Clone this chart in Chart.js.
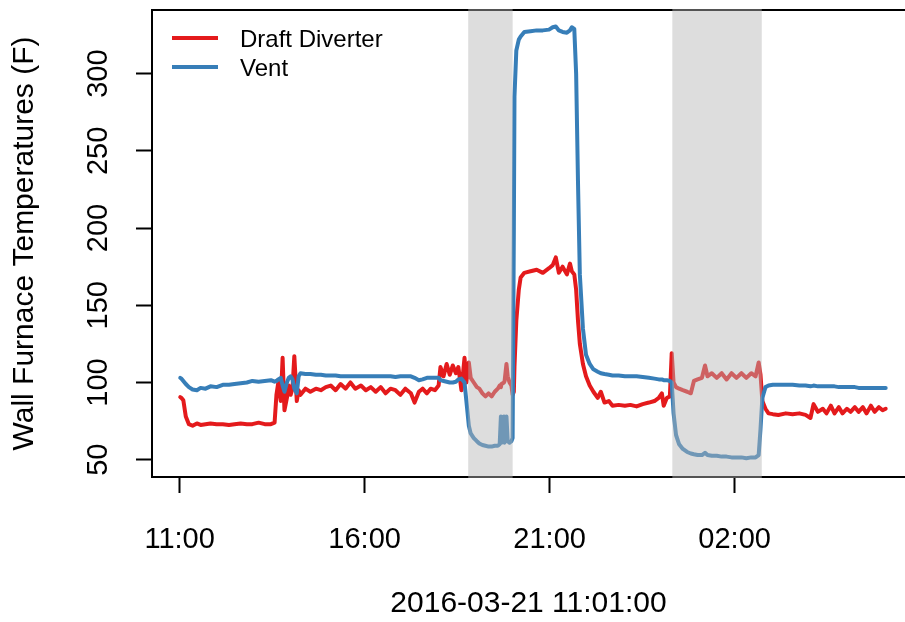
<!DOCTYPE html>
<html>
<head>
<meta charset="utf-8">
<title>Wall Furnace Temperatures</title>
<script src="https://cdn.jsdelivr.net/npm/chart.js@4.4.1/dist/chart.umd.min.js"></script>
<style>
  html, body { margin: 0; padding: 0; background: #fff; overflow: hidden; }
  #wrap { position: relative; width: 905px; height: 622px; }
</style>
</head>
<body>
<div id="wrap"><canvas id="c" width="905" height="622"></canvas></div>
<script>
// Logged temperatures, minutes elapsed since 11:00 on 2016-03-21
const minutes = [
  1, 3, 6, 10, 15, 21, 28, 34, 42, 50, 60, 70, 80, 89, 99, 109, 118, 128, 138, 148,
  154, 157, 160, 164, 167, 170, 174, 177, 180, 183, 186, 190, 193, 196, 204, 212, 221, 229, 237, 245,
  253, 261, 269, 277, 285, 294, 302, 310, 318, 326, 334, 342, 350, 358, 366, 375, 381, 388, 394, 401,
  407, 414, 420, 423, 428, 433, 438, 443, 448, 452, 457, 462, 465, 469, 472, 477, 482, 486, 491, 496,
  501, 506, 511, 516, 519, 521, 522, 526, 527, 530, 532, 535, 538, 540, 542, 543, 546, 550, 553, 559,
  569, 579, 589, 599, 605, 610, 615, 621, 628, 633, 636, 640, 643, 646, 649, 654, 659, 665, 671, 678,
  683, 689, 696, 702, 712, 722, 731, 741, 751, 761, 770, 777, 782, 785, 790, 795, 798, 801, 805, 810,
  816, 823, 829, 834, 840, 847, 852, 856, 863, 871, 879, 887, 895, 903, 911, 919, 927, 934, 939, 942,
  945, 950, 955, 962, 971, 983, 994, 1005, 1015, 1023, 1028, 1035, 1043, 1049, 1056, 1062, 1069, 1075, 1082, 1088,
  1095, 1101, 1108, 1114, 1121, 1127, 1134, 1140, 1145
];
const draftDiverter = [
  90.5, 90, 88.5, 78, 73, 72, 73.5, 72.5, 73, 73.5, 73, 73, 72.5, 73, 73.5, 73, 73, 74, 73, 73,
  74, 92, 100, 88, 116, 82, 90, 98, 92, 96, 117, 88, 95, 92, 96, 94, 96, 95, 97, 98,
  95, 99, 96, 100, 96, 98, 95, 97, 94, 97, 93, 96, 95, 92, 96, 93, 87, 94, 96, 93,
  96, 95, 98, 110, 104, 112, 105, 111, 106, 110, 95, 116, 100, 113, 103, 100, 97, 96, 93, 91,
  93, 91, 94, 96, 98, 97, 99, 100, 101, 112, 104, 100, 98, 92, 94, 110, 140, 160, 168, 171,
  172, 173, 171, 174, 176, 181, 171, 175, 170, 177, 172, 170, 160, 140, 125, 112, 104, 98, 94, 90,
  94, 87, 88, 85, 85.5, 85, 85.5, 84.5, 86, 87, 88, 90, 93, 85, 90, 91, 119, 100, 97, 96,
  95, 94, 93, 101, 102, 103, 111, 104, 106, 103, 106, 102, 106, 103, 106, 103, 106, 104, 113, 105,
  88, 83, 80, 79.5, 79, 80, 79.5, 80, 79, 77, 86, 81, 83, 80, 85, 80, 84, 80, 83, 81,
  84, 81, 84, 80, 85, 81, 84, 82, 83
];
const vent = [
  103, 102.5, 101, 99, 97, 95.5, 95, 96.5, 96, 97.5, 97, 98.5, 98.5, 99, 99.5, 100, 101, 100.5, 101, 101.5,
  100.5, 101, 102, 103, 98, 94, 100, 103, 104, 102, 96, 93, 104, 106, 105.5, 105.5, 105, 105, 104.5, 104.5,
  104.5, 104, 104, 104, 104, 104, 104, 104, 104, 104, 104, 104, 103.5, 104, 104, 104, 103, 101.5, 102, 103,
  103, 103, 103, 101.5, 101, 100.5, 100, 100, 100.5, 102, 102.5, 100, 88, 72, 67, 64, 62, 60.5, 59.5, 59,
  58.5, 58.5, 59, 59, 60, 78, 61, 78, 61, 78, 62, 61, 62, 64, 200, 285, 315, 322, 324, 327,
  327.5, 328, 328, 328.5, 330, 330.5, 328, 327, 326.5, 328, 330, 329, 300, 230, 170, 135, 118, 112, 108.5, 107,
  106, 105.5, 105, 104.5, 104.5, 104, 104, 104, 103.5, 103, 102.5, 102, 102, 101.5, 101.5, 101, 100, 80, 66, 60,
  57, 55, 54, 53.5, 53, 53, 54.5, 53, 52.5, 52.5, 52, 52, 51.5, 51.5, 51.5, 51, 51.5, 51.5, 53, 70,
  90, 97, 98, 98.5, 98.5, 98.5, 98.5, 98, 98, 97.5, 98, 97.5, 97.5, 97.5, 97.5, 97.5, 97, 97, 97, 97,
  97, 96.5, 96.5, 96.5, 96.5, 96.5, 96.5, 96.5, 96.5
];

const seriesNames = ['Draft Diverter', 'Vent'];
const seriesColors = ['#E41A1C', '#377EB8'];

const yTicks = [50, 100, 150, 200, 250, 300];
const xTickMinutes = [0, 300, 600, 900];
const xTickLabels = ['11:00', '16:00', '21:00', '02:00'];

// Shaded periods, minutes since 11:00
const shadeStart = [468, 799];
const shadeEnd = [540, 944];

const FONT = '"Liberation Sans", Arial, Helvetica, sans-serif';

function toPoints(values) {
  return values.map((v, i) => ({ x: minutes[i], y: v }));
}

// Plot frame (top, left, bottom), drawn under the traces
const framePlugin = {
  id: 'frame',
  beforeDatasetsDraw(chart) {
    const { ctx, chartArea: a } = chart;
    ctx.save();
    ctx.strokeStyle = '#000';
    ctx.lineWidth = 2;
    ctx.beginPath();
    ctx.moveTo(a.right + 2, a.top);
    ctx.lineTo(a.left, a.top);
    ctx.lineTo(a.left, a.bottom);
    ctx.lineTo(a.right + 2, a.bottom);
    ctx.stroke();
    ctx.restore();
  }
};

// Translucent grey bands laid over the traces
const shadePlugin = {
  id: 'shade',
  afterDatasetsDraw(chart) {
    const { ctx, chartArea: a, scales: { x } } = chart;
    ctx.save();
    ctx.fillStyle = 'rgba(180,180,180,0.46)';
    for (let i = 0; i < shadeStart.length; i++) {
      const x0 = x.getPixelForValue(shadeStart[i]);
      const x1 = x.getPixelForValue(shadeEnd[i]);
      ctx.fillRect(x0, a.top - 1, x1 - x0, a.bottom - a.top + 2);
    }
    ctx.restore();
  }
};

// Rotated y tick labels and the legend
const labelPlugin = {
  id: 'labels',
  afterDraw(chart) {
    const { ctx, chartArea: a, scales: { y } } = chart;
    ctx.save();
    ctx.fillStyle = '#000';
    ctx.font = '29px ' + FONT;
    ctx.textAlign = 'center';
    ctx.textBaseline = 'alphabetic';
    y.ticks.forEach(t => {
      const py = y.getPixelForValue(t.value);
      ctx.save();
      ctx.translate(107, py);
      ctx.rotate(-Math.PI / 2);
      ctx.fillText(String(t.value), 0, 0);
      ctx.restore();
    });

    // legend
    const rows = [38, 67];
    ctx.font = '24px ' + FONT;
    ctx.textAlign = 'left';
    chart.data.datasets.forEach((ds, i) => {
      const ry = rows[i];
      ctx.strokeStyle = ds.borderColor;
      ctx.lineWidth = 4;
      ctx.lineCap = 'butt';
      ctx.beginPath();
      ctx.moveTo(a.left + 20, ry);
      ctx.lineTo(a.left + 66, ry);
      ctx.stroke();
      ctx.fillStyle = '#000';
      ctx.fillText(ds.label, a.left + 88, ry + 9);
    });
    ctx.restore();
  }
};

new Chart(document.getElementById('c'), {
  type: 'line',
  data: {
    datasets: [
      {
        label: seriesNames[0],
        data: toPoints(draftDiverter),
        borderColor: seriesColors[0],
        backgroundColor: seriesColors[0],
        borderWidth: 4,
        pointRadius: 0,
        tension: 0,
        borderJoinStyle: 'round',
        borderCapStyle: 'round',
        order: 1
      },
      {
        label: seriesNames[1],
        data: toPoints(vent),
        borderColor: seriesColors[1],
        backgroundColor: seriesColors[1],
        borderWidth: 4,
        pointRadius: 0,
        tension: 0,
        borderJoinStyle: 'round',
        borderCapStyle: 'round',
        order: 0
      }
    ]
  },
  options: {
    responsive: false,
    animation: false,
    devicePixelRatio: 1,
    layout: { padding: { top: 10, right: 0, bottom: 0, left: 0 } },
    plugins: {
      legend: { display: false },
      tooltip: { enabled: false }
    },
    scales: {
      x: {
        type: 'linear',
        min: -44.8,
        max: 1176.3,
        afterBuildTicks(scale) {
          scale.ticks = xTickMinutes.map(v => ({ value: v }));
        },
        afterFit(scale) { scale.height = 145; },
        grid: {
          drawOnChartArea: false,
          drawTicks: true,
          tickLength: 16,
          tickWidth: 2,
          tickColor: '#000',
          color: '#000'
        },
        border: { display: false },
        ticks: {
          autoSkip: false,
          maxRotation: 0,
          padding: 30,
          color: '#000',
          font: { family: FONT, size: 29 },
          callback(value) {
            const i = xTickMinutes.indexOf(value);
            return i >= 0 ? xTickLabels[i] : '';
          }
        },
        title: {
          display: true,
          text: '2016-03-21 11:01:00',
          color: '#000',
          font: { family: FONT, size: 30 },
          padding: { top: 0, bottom: 0 }
        }
      },
      y: {
        type: 'linear',
        min: 38.8,
        max: 341.2,
        afterBuildTicks(scale) {
          scale.ticks = yTicks.map(v => ({ value: v }));
        },
        afterFit(scale) { scale.width = 152; },
        grid: {
          drawOnChartArea: false,
          drawTicks: true,
          tickLength: 16,
          tickWidth: 2,
          tickColor: '#000',
          color: '#000'
        },
        border: { display: false },
        ticks: { display: false },
        title: {
          display: true,
          text: 'Wall Furnace Temperatures (F)',
          color: '#000',
          font: { family: FONT, size: 30 },
          padding: { top: 7, bottom: 0 }
        }
      }
    }
  },
  plugins: [framePlugin, shadePlugin, labelPlugin]
});
</script>
</body>
</html>
